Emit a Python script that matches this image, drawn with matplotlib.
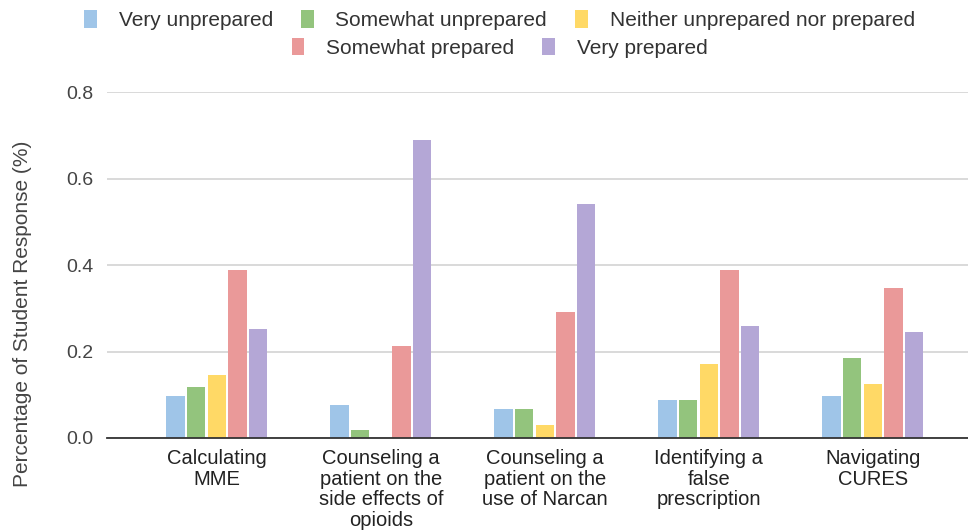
import numpy as np
import matplotlib.pyplot as plt
from matplotlib.patches import Patch

plt.rcParams['font.family'] = ['Liberation Sans', 'DejaVu Sans']

# Категории и данные
categories = ['Calculating\nMME',
              'Counseling a\npatient on the\nside effects of\nopioids',
              'Counseling a\npatient on the\nuse of Narcan',
              'Identifying a\nfalse\nprescription',
              'Navigating\nCURES']
series_names = ['Very unprepared', 'Somewhat unprepared',
                'Neither unprepared nor prepared', 'Somewhat prepared',
                'Very prepared']
very_unprepared = [0.096, 0.077, 0.068, 0.089, 0.097]
somewhat_unprepared = [0.117, 0.018, 0.068, 0.089, 0.185]
neither = [0.145, 0.0, 0.029, 0.172, 0.124]
somewhat_prepared = [0.388, 0.212, 0.292, 0.388, 0.348]
very_prepared = [0.252, 0.690, 0.542, 0.260, 0.244]
y_ticks = [0.0, 0.2, 0.4, 0.6, 0.8]

colors = ['#9fc5e8', '#93c47d', '#ffd966', '#ea9999', '#b4a7d6']
series = [very_unprepared, somewhat_unprepared, neither,
          somewhat_prepared, very_prepared]

fig = plt.figure(figsize=(9.68, 5.32), dpi=100)
ax = fig.add_axes([0.1105, 0.1767, 0.8895, 0.6503])

x = np.arange(len(categories))
step = 0.126
width = 0.113
for i, (vals, col) in enumerate(zip(series, colors)):
    ax.bar(x + (i - 2) * step, vals, width, color=col, zorder=3)

ax.set_xlim(-0.67, 4.58)
ax.set_ylim(0, 0.8)
ax.set_yticks(y_ticks)
ax.set_yticklabels([f'{v:.1f}' for v in y_ticks])
ax.set_xticks(x)
ax.set_xticklabels(categories, fontsize=14.5, color='#222222', linespacing=1.1)
ax.tick_params(axis='y', length=0, pad=10, labelsize=14, labelcolor='#444444')
ax.tick_params(axis='x', length=0, pad=8)
ax.grid(axis='y', color='#d3d3d3', linewidth=1.2, zorder=0)
for s in ['top', 'right', 'left']:
    ax.spines[s].set_visible(False)
ax.spines['bottom'].set_color('#333333')
ax.spines['bottom'].set_linewidth(1.3)
ax.spines['bottom'].set_zorder(4)

fig.text(0.023, 0.41, 'Percentage of Student Response (%)', rotation=90,
         ha='center', va='center', fontsize=15, color='#444444')

# Легенда в две строки
handles = [Patch(facecolor=c, edgecolor='none') for c in colors]
leg_kw = dict(loc='center', frameon=False, fontsize=15, handlelength=0.6,
              handleheight=0.9, handletextpad=1.05, columnspacing=1.35,
              labelcolor='#333333')
fig.legend(handles[:3], series_names[:3], ncol=3,
           bbox_to_anchor=(0.516, 0.962), **leg_kw)
fig.legend(handles[3:], series_names[3:], ncol=2,
           bbox_to_anchor=(0.516, 0.91), **leg_kw)

plt.savefig('out.png', dpi=100)
